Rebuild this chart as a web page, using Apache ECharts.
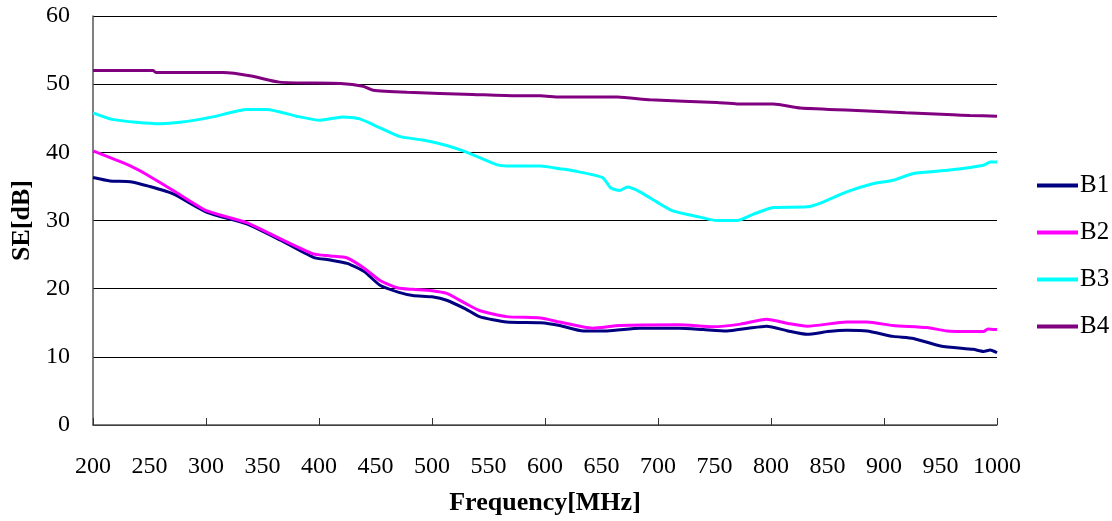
<!DOCTYPE html>
<html lang="en">
<head>
    <meta charset="UTF-8">
    <title>SE vs Frequency</title>
    <script src="https://cdn.jsdelivr.net/npm/echarts@6/dist/echarts.min.js"></script>
    <style>
        body { margin: 0; background: #fff; }
        #chart { width: 1112px; height: 521px; }
    </style>
</head>
<body>
<div id="chart"></div>
<script>
    // [frequency MHz, SE dB]
    const seriesNames = ['B1', 'B2', 'B3', 'B4'];
    const colors = ['#000080', '#ff00ff', '#00ffff', '#800080'];

    const b1 = [[200,36.3],[215,35.8],[233,35.7],[250,35.0],[271,33.9],[301,31.2],[336,29.5],[366,27.1],[395,24.6],[410,24.2],[425,23.7],[440,22.5],[454,20.5],[470,19.5],[483,19.0],[500,18.8],[513,18.3],[530,17.0],[542,15.9],[566,15.1],[596,15.0],[613,14.6],[634,13.8],[655,13.8],[684,14.2],[719,14.2],[740,14.0],[761,13.8],[780,14.2],[796,14.5],[815,13.8],[832,13.3],[850,13.7],[867,13.9],[885,13.8],[908,13.0],[926,12.7],[950,11.6],[979,11.1],[988,10.8],[994,11.0],[1000,10.6]];
    const b2 = [[200,40.2],[233,38.0],[250,36.5],[271,34.4],[301,31.4],[336,29.7],[366,27.3],[395,25.1],[410,24.8],[425,24.5],[440,23.0],[454,21.2],[470,20.1],[483,19.9],[500,19.7],[513,19.3],[530,17.8],[542,16.8],[566,15.9],[596,15.7],[613,15.1],[642,14.2],[666,14.6],[719,14.7],[749,14.4],[773,14.8],[796,15.5],[815,14.9],[832,14.5],[867,15.1],[885,15.1],[908,14.6],[938,14.3],[956,13.8],[988,13.7],[992,14.1],[1000,14.0]];
    const b3 = [[200,45.8],[218,44.8],[259,44.2],[277,44.4],[306,45.2],[336,46.3],[354,46.3],[380,45.3],[401,44.7],[421,45.2],[436,44.9],[454,43.6],[472,42.3],[492,41.8],[513,41.0],[531,40.0],[557,38.2],[566,38.0],[596,38.0],[613,37.6],[625,37.3],[651,36.3],[658,34.8],[666,34.4],[673,34.9],[684,34.2],[699,32.7],[713,31.4],[737,30.5],[752,30.0],[770,30.0],[784,30.9],[802,31.9],[832,32.0],[846,32.7],[867,34.2],[890,35.4],[908,35.9],[926,36.9],[958,37.4],[988,38.1],[994,38.6],[1000,38.6]];
    const b4 = [[200,52.0],[253,52.0],[256,51.7],[315,51.7],[340,51.2],[365,50.3],[419,50.1],[439,49.7],[448,49.1],[478,48.8],[536,48.5],[575,48.3],[596,48.3],[613,48.1],[664,48.1],[693,47.7],[752,47.3],[770,47.1],[802,47.1],[826,46.5],[881,46.1],[919,45.8],[961,45.5],[976,45.4],[1000,45.3]];
    const allData = [b1, b2, b3, b4];

    const font = '"Liberation Serif", "DejaVu Serif", serif';

    let myChart = echarts.init(document.getElementById('chart'));

    let option = {
        backgroundColor: '#fff',
        animation: false,
        grid: { left: 93, right: 115, top: 16, bottom: 94 },
        legend: {
            orient: 'vertical',
            left: 1032,
            top: 168,
            itemGap: 22,
            itemWidth: 41,
            itemHeight: 4,
            icon: 'rect',
            textStyle: { fontFamily: font, fontSize: 25, lineHeight: 25, color: '#000', padding: [0, 0, 0, -3] },
            data: seriesNames
        },
        xAxis: [
            {
                type: 'value',
                min: 200,
                max: 1000,
                interval: 50,
                name: 'Frequency[MHz]',
                nameLocation: 'middle',
                nameGap: 65,
                nameTextStyle: { fontFamily: font, fontSize: 26, fontWeight: 'bold', color: '#000' },
                axisLine: { lineStyle: { color: '#555', width: 1.5 } },
                axisTick: { show: false },
                axisLabel: { margin: 30, fontFamily: font, fontSize: 24, color: '#000', formatter: v => String(v) },
                splitLine: { show: false }
            },
            {
                // tick marks only every 100 MHz
                type: 'value',
                min: 200,
                max: 1000,
                interval: 100,
                position: 'bottom',
                axisLine: { show: false },
                axisTick: { inside: true, length: 7, lineStyle: { color: '#333' } },
                axisLabel: { show: false },
                splitLine: { show: false }
            }
        ],
        yAxis: {
            type: 'value',
            min: 0,
            max: 60,
            interval: 10,
            name: 'SE[dB]',
            nameLocation: 'middle',
            nameGap: 56,
            nameTextStyle: { fontFamily: font, fontSize: 26, fontWeight: 'bold', color: '#000' },
            axisLine: { show: true, lineStyle: { color: '#555', width: 1.5 } },
            axisTick: { show: false },
            axisLabel: { margin: 23, fontFamily: font, fontSize: 24, color: '#000' },
            splitLine: { lineStyle: { color: '#000', width: 1 } }
        },
        series: allData.map((d, i) => ({
            name: seriesNames[i],
            type: 'line',
            data: d,
            xAxisIndex: 0,
            showSymbol: false,
            smooth: 0.2,
            lineStyle: { color: colors[i], width: 3 },
            itemStyle: { color: colors[i] }
        }))
    };

    myChart.setOption(option);
</script>
</body>
</html>
